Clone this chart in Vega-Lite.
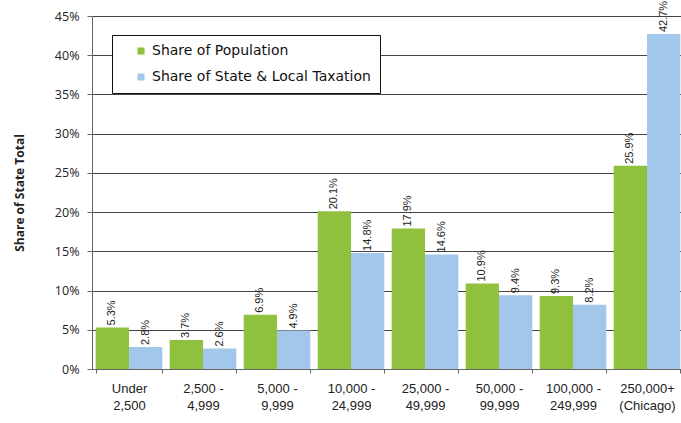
{
  "$schema": "https://vega.github.io/schema/vega-lite/v6.json",
  "autosize": {"type": "none"},
  "width": 592,
  "height": 353,
  "padding": {"left": 92, "top": 16, "right": 0, "bottom": 54},
  "background": "white",
  "data": {
    "values": [
      {"size": "Under|2,500", "series": "Share of Population", "value": 0.053},
      {"size": "Under|2,500", "series": "Share of State & Local Taxation", "value": 0.028},
      {"size": "2,500 -|4,999", "series": "Share of Population", "value": 0.037},
      {"size": "2,500 -|4,999", "series": "Share of State & Local Taxation", "value": 0.026},
      {"size": "5,000 -|9,999", "series": "Share of Population", "value": 0.069},
      {"size": "5,000 -|9,999", "series": "Share of State & Local Taxation", "value": 0.049},
      {"size": "10,000 -|24,999", "series": "Share of Population", "value": 0.201},
      {"size": "10,000 -|24,999", "series": "Share of State & Local Taxation", "value": 0.148},
      {"size": "25,000 -|49,999", "series": "Share of Population", "value": 0.179},
      {"size": "25,000 -|49,999", "series": "Share of State & Local Taxation", "value": 0.146},
      {"size": "50,000 -|99,999", "series": "Share of Population", "value": 0.109},
      {"size": "50,000 -|99,999", "series": "Share of State & Local Taxation", "value": 0.094},
      {"size": "100,000 -|249,999", "series": "Share of Population", "value": 0.093},
      {"size": "100,000 -|249,999", "series": "Share of State & Local Taxation", "value": 0.082},
      {"size": "250,000+|(Chicago)", "series": "Share of Population", "value": 0.259},
      {"size": "250,000+|(Chicago)", "series": "Share of State & Local Taxation", "value": 0.427}
    ]
  },
  "encoding": {
    "x": {
      "field": "size", "type": "nominal", "sort": null,
      "scale": {"paddingInner": 0.1, "paddingOuter": 0.05},
      "axis": {
        "title": null, "labelAngle": 0, "labelExpr": "split(datum.label, '|')",
        "labelFont": "Liberation Sans", "labelFontSize": 13, "labelColor": "#222",
        "labelPadding": 9, "labelLineHeight": 17,
        "tickBand": "extent", "tickColor": "#666", "tickSize": 4,
        "domainColor": "#666", "grid": false
      }
    },
    "xOffset": {"field": "series", "type": "nominal", "scale": {"paddingInner": 0, "paddingOuter": 0}},
    "y": {
      "field": "value", "type": "quantitative",
      "scale": {"domain": [0, 0.45], "nice": false},
      "axis": {
        "title": "Share of State Total", "format": ".0%",
        "values": [0, 0.05, 0.1, 0.15, 0.2, 0.25, 0.3, 0.35, 0.4, 0.45],
        "labelOverlap": false,
        "titleFont": "Open Sans", "titleFontSize": 12, "titleFontWeight": "bold", "titleColor": "#222", "titlePadding": 28,
        "labelFont": "Open Sans", "labelFontSize": 12.5, "labelColor": "#222", "labelPadding": 8,
        "gridColor": "#444", "gridWidth": 1, "domainColor": "#666", "tickColor": "#666", "tickSize": 5
      }
    }
  },
  "layer": [
    {
      "mark": {"type": "bar"},
      "encoding": {
        "color": {
          "field": "series", "type": "nominal",
          "scale": {"range": ["#8fc13f", "#a2c7ea"]},
          "legend": {
            "title": null, "orient": "none", "legendX": 20, "legendY": 19,
            "strokeColor": "#111", "fillColor": "white", "padding": 9,
            "labelFont": "DejaVu Sans", "labelFontSize": 14, "labelColor": "#111",
            "symbolType": "square", "symbolSize": 50, "symbolStrokeWidth": 0,
            "symbolOffset": 13, "labelOffset": 4,
            "labelExpr": "datum.label + '    '",
            "rowPadding": 12, "labelLimit": 400
          }
        }
      }
    },
    {
      "mark": {"type": "text", "angle": 270, "align": "left", "baseline": "middle", "dx": 2, "font": "Liberation Sans", "fontSize": 11, "color": "#222"},
      "encoding": {"text": {"field": "value", "type": "quantitative", "format": ".1%"}}
    }
  ],
  "config": {"view": {"stroke": null}}
}
